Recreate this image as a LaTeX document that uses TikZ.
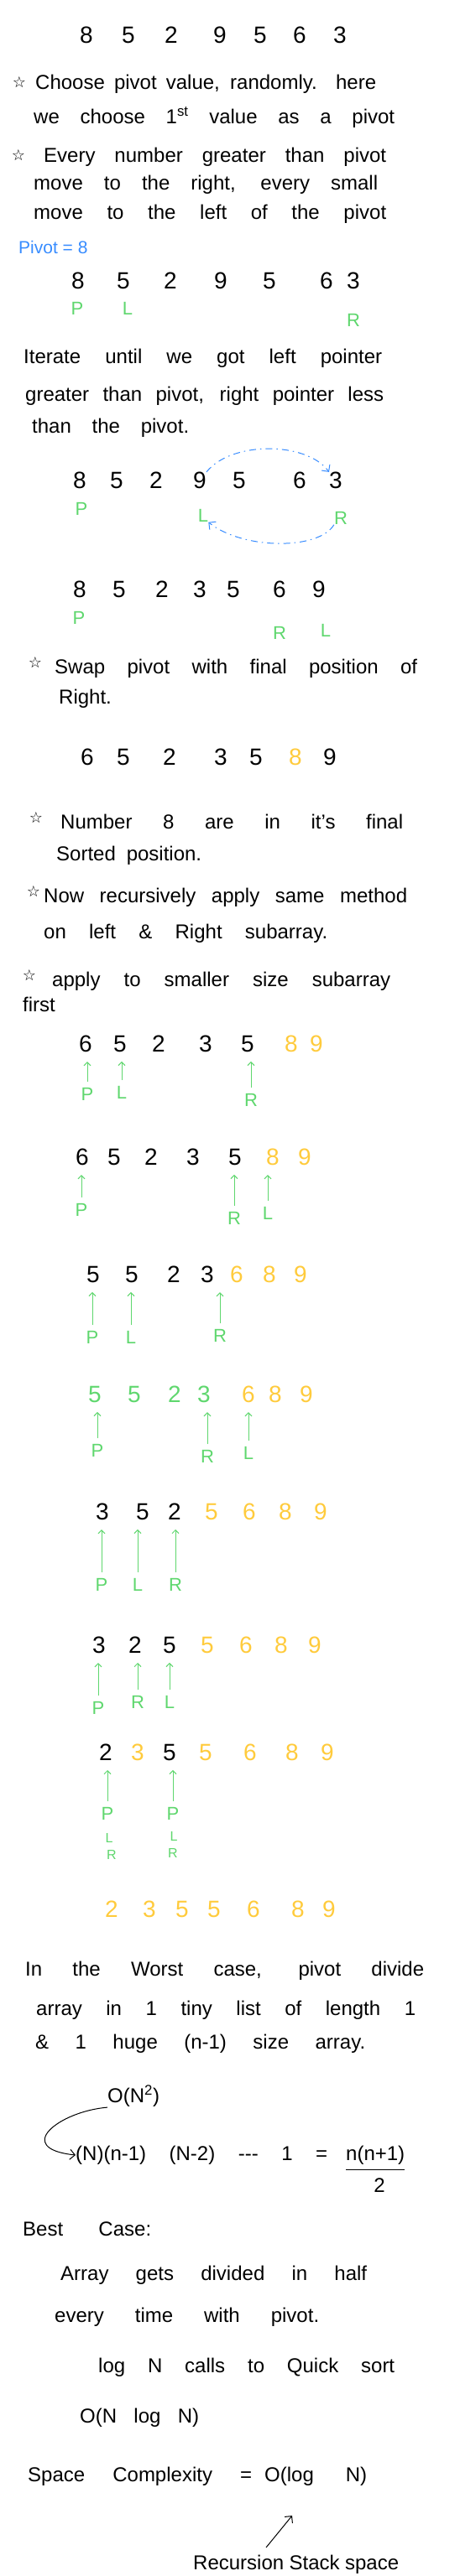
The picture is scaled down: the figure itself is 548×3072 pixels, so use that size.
\documentclass[tikz,border=0pt]{standalone}
\usepackage{fontspec}
\setmainfont{Liberation Sans}
\newfontfamily\symfont{DejaVu Sans}
\usetikzlibrary{arrows.meta}
\definecolor{pgreen}{RGB}{95,215,110}
\definecolor{pyellow}{RGB}{255,203,60}
\definecolor{pblue}{RGB}{55,140,255}
\newcommand\spread[2]{\makebox[#1pt][s]{#2}}
\newcommand\drow[3]{\foreach \x/\d/\c [count=\i] in {#3} {\node[dig,text=\c] (#1\i) at (\x,#2) {\d};}}
\begin{document}
\begin{tikzpicture}[x=1pt,y=-1pt,
  txt/.style={anchor=west,inner sep=0pt,font=\fontsize{24}{28}\selectfont},
  starmark/.style={inner sep=0pt,font=\symfont\fontsize{18}{20}\selectfont},
  dig/.style={inner sep=0pt,font=\fontsize{28}{32}\selectfont},
  lbl/.style={inner sep=0pt,text=pgreen,font=\fontsize{22}{26}\selectfont},
  slbl/.style={inner sep=0pt,text=pgreen,font=\fontsize{16}{18}\selectfont},
  parr/.style={draw=pgreen,line width=1pt,-{Straight Barb[length=4pt,width=8pt]},shorten <=7pt,shorten >=11pt},
  swaparr/.style={draw=pblue,line width=1pt,dash pattern=on 8pt off 5pt on 1.5pt off 5pt,-{Straight Barb[length=6pt,width=12pt]}},
  penarr/.style={draw=black,line width=1pt,-{Straight Barb[length=6pt,width=12pt]}}]
\path[use as bounding box,clip] (0,0) rectangle (548,3072);
\fill[white] (0,0) rectangle (548,3072);

% row 1
\drow{a}{42}{103/8/black,153/5/black,204/2/black,262/9/black,310/5/black,357/6/black,405/3/black}

% intro text
\node[starmark] (s1) at (23,98) {☆};
\node[txt] (t1) at (42,100) {\spread{406}{Choose pivot value, randomly. here}};
\node[txt] (t2) at (40,140) {\spread{430}{we choose 1\textsuperscript{st} value as a pivot}};
\node[starmark] (s2) at (22,185) {☆};
\node[txt] (t3) at (52,187) {\spread{408}{Every number greater than pivot}};
\node[txt] (t4) at (40,220) {\spread{410}{move to the right, every small}};
\node[txt] (t5) at (40,255) {\spread{420}{move to the left of the pivot}};
\node[anchor=west,inner sep=0pt,text=pblue,font=\fontsize{21}{24}\selectfont] (piv) at (22,295) {Pivot = 8};

% row 2
\drow{b}{335}{93/8/black,147/5/black,203/2/black,263/9/black,321/5/black,389/6/black,421/3/black}
\node[lbl] (bP) at (92,368) {P};
\node[lbl] (bL) at (152,368) {L};
\node[lbl] (bR) at (421,382) {R};

\node[txt] (t6) at (28,427) {\spread{427}{Iterate until we got left pointer}};
\node[txt] (t7) at (30,472) {\spread{427}{greater than pivot, right pointer less}};
\node[txt] (t8) at (38,510) {\spread{187}{than the pivot.}};

% row 3
\drow{c}{573}{95/8/black,139/5/black,186/2/black,238/9/black,285/5/black,357/6/black,400/3/black}
\node[lbl] (cP) at (97,607) {P};
\node[lbl] (cL) at (242,615) {L};
\node[lbl] (cR) at (406,618) {R};
\draw[swaparr] (c4.north east) .. controls (275,526) and (365,526) .. (c7.north west);
\draw[swaparr] (cR.south west) .. controls (380,656) and (290,656) .. (cL.south east);

% row 4
\drow{d}{703}{95/8/black,142/5/black,193/2/black,238/3/black,278/5/black,333/6/black,380/9/black}
\node[lbl] (dP) at (94,737) {P};
\node[lbl] (dR) at (333,755) {R};
\node[lbl] (dL) at (388,752) {L};

\node[starmark] (s3) at (42,790) {☆};
\node[txt] (t9) at (65,797) {\spread{432}{Swap pivot with final position of}};
\node[txt] (t10) at (70,833) {Right.};

% row 5
\drow{e}{903}{104/6/black,147/5/black,202/2/black,263/3/black,305/5/black,352/8/pyellow,393/9/black}

\node[starmark] (s4) at (43,975) {☆};
\node[txt] (t11) at (72,980) {\spread{408}{Number 8 are in it's final}};
\node[txt] (t12) at (67,1020) {\spread{173}{Sorted position.}};
\node[starmark] (s5) at (40,1063) {☆};
\node[txt] (t13) at (52,1070) {\spread{433}{Now recursively apply same method}};
\node[txt] (t14) at (52,1113) {\spread{338}{on left \& Right subarray.}};
\node[starmark] (s6) at (35,1163) {☆};
\node[txt] (t15) at (62,1170) {\spread{403}{apply to smaller size subarray}};
\node[txt] (t16) at (27,1198) {first};

% row 6
\drow{f}{1245}{102/6/black,143/5/black,189/2/black,245/3/black,295/5/black,347/8/pyellow,377/9/pyellow}
\node[lbl] (fP) at (104,1305) {P};
\node[lbl] (fL) at (145,1303) {L};
\node[lbl] (fR) at (299,1312) {R};
\draw[parr] (fP.north) -- (fP.north |- f1.south);
\draw[parr] (fL.north) -- (fL.north |- f2.south);
\draw[parr] (fR.north) -- (fR.north |- f5.south);

% row 7
\drow{g}{1380}{98/6/black,136/5/black,180/2/black,230/3/black,280/5/black,325/8/pyellow,363/9/pyellow}
\node[lbl] (gP) at (97,1443) {P};
\node[lbl] (gR) at (279,1453) {R};
\node[lbl] (gL) at (319,1447) {L};
\draw[parr] (gP.north) -- (gP.north |- g1.south);
\draw[parr] (gR.north) -- (gR.north |- g5.south);
\draw[parr] (gL.north) -- (gL.north |- g6.south);

% row 8
\drow{h}{1520}{111/5/black,157/5/black,207/2/black,247/3/black,282/6/pyellow,321/8/pyellow,358/9/pyellow}
\node[lbl] (hP) at (110,1595) {P};
\node[lbl] (hL) at (156,1595) {L};
\node[lbl] (hR) at (262,1593) {R};
\draw[parr] (hP.north) -- (hP.north |- h1.south);
\draw[parr] (hL.north) -- (hL.north |- h2.south);
\draw[parr] (hR.north) -- (hR.north |- h4.south);

% row 9
\drow{i}{1663}{113/5/pgreen,160/5/pgreen,208/2/pgreen,243/3/pgreen,296/6/pyellow,328/8/pyellow,365/9/pyellow}
\node[lbl] (iP) at (116,1730) {P};
\node[lbl] (iR) at (247,1737) {R};
\node[lbl] (iL) at (296,1733) {L};
\draw[parr] (iP.north) -- (iP.north |- i1.south);
\draw[parr] (iR.north) -- (iR.north |- i4.south);
\draw[parr] (iL.north) -- (iL.north |- i5.south);

% row 10
\drow{j}{1803}{122/3/black,170/5/black,208/2/black,252/5/pyellow,297/6/pyellow,340/8/pyellow,382/9/pyellow}
\node[lbl] (jP) at (121,1890) {P};
\node[lbl] (jL) at (164,1890) {L};
\node[lbl] (jR) at (209,1890) {R};
\draw[parr] (jP.north) -- (jP.north |- j1.south);
\draw[parr] (jL.north) -- (jL.north |- j2.south);
\draw[parr] (jR.north) -- (jR.north |- j3.south);

% row 11
\drow{k}{1962}{118/3/black,161/2/black,202/5/black,247/5/pyellow,293/6/pyellow,335/8/pyellow,375/9/pyellow}
\node[lbl] (kP) at (117,2037) {P};
\node[lbl] (kR) at (164,2030) {R};
\node[lbl] (kL) at (202,2030) {L};
\draw[parr] (kP.north) -- (kP.north |- k1.south);
\draw[parr] (kR.north) -- (kR.north |- k2.south);
\draw[parr] (kL.north) -- (kL.north |- k3.south);

% row 12
\drow{l}{2090}{126/2/black,164/3/pyellow,202/5/black,245/5/pyellow,298/6/pyellow,348/8/pyellow,390/9/pyellow}
\node[lbl] (lP1) at (128,2163) {P};
\node[slbl] (lL1) at (130,2192) {L};
\node[slbl] (lR1) at (133,2212) {R};
\node[lbl] (lP2) at (206,2163) {P};
\node[slbl] (lL2) at (207,2190) {L};
\node[slbl] (lR2) at (206,2210) {R};
\draw[parr] (lP1.north) -- (lP1.north |- l1.south);
\draw[parr] (lP2.north) -- (lP2.north |- l3.south);

% row 13 (sorted)
\drow{m}{2277}{133/2/pyellow,178/3/pyellow,217/5/pyellow,255/5/pyellow,302/6/pyellow,355/8/pyellow,392/9/pyellow}

% complexity text
\node[txt] (t17) at (30,2350) {\spread{475}{In the Worst case, pivot divide}};
\node[txt] (t18) at (43,2397) {\spread{452}{array in 1 tiny list of length 1}};
\node[txt] (t19) at (42,2437) {\spread{393}{\& 1 huge (n-1) size array.}};
\node[txt] (on2) at (128,2500) {O(N\textsuperscript{2})};
\node[txt] (sum) at (90,2570) {\spread{300}{(N)(n-1) (N-2) -{}-{}- 1 =}};
\node[txt] (num) at (412,2570) {n(n+1)};
\node[inner sep=0pt,font=\fontsize{24}{28}\selectfont] (den) at (452,2606) {2};
\draw[line width=1pt] ([yshift=-6pt]num.south west) -- ([yshift=-6pt]num.south east);
\draw[penarr] (on2.south west) .. controls (70,2518) and (15,2562) .. (sum.west);

\node[txt] (t22) at (27,2658) {\spread{153}{Best Case:}};
\node[txt] (t23) at (72,2713) {\spread{365}{Array gets divided in half}};
\node[txt] (t24) at (65,2763) {\spread{315}{every time with pivot.}};
\node[txt] (t25) at (117,2823) {\spread{353}{log N calls to Quick sort}};
\node[txt] (t26) at (95,2883) {\spread{142}{O(N log N)}};
\node[txt] (t27) at (33,2953) {\spread{267}{Space Complexity =}};
\node[txt] (olog) at (315,2953) {\spread{122}{O(log N)}};
\node[txt] (rec) at (230,3058) {\spread{245}{Recursion Stack space}};
\coordinate (tail) at (317,3038);
\coordinate (tip) at (348,3000);
\draw[penarr] (tail) -- (tip);
\end{tikzpicture}
\end{document}
